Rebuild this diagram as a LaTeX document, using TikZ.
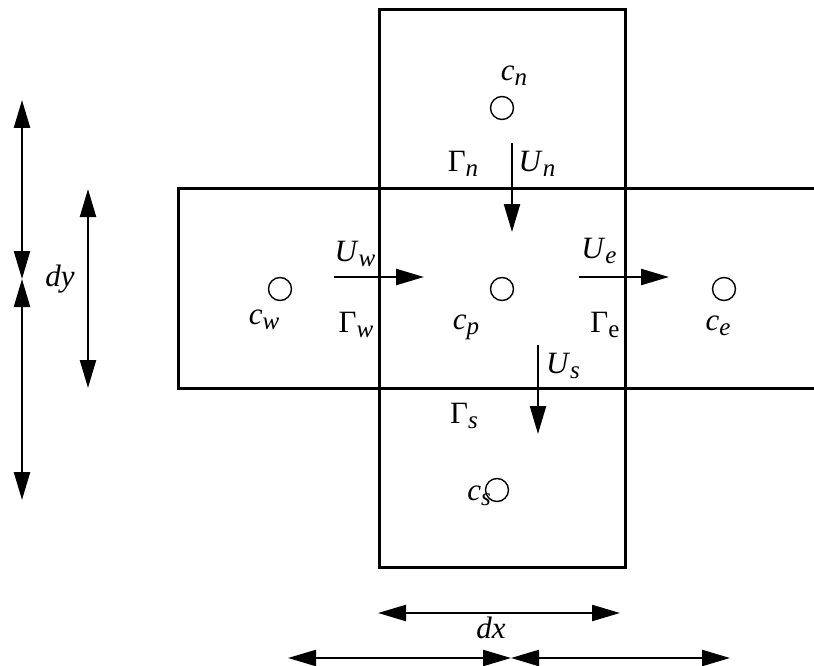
\documentclass[tikz,border=0pt]{standalone}
\usepackage{fontspec}
\setmainfont{Liberation Serif}
\usetikzlibrary{arrows.meta}
\newcommand\subx[1]{\raisebox{-5pt}{\fontsize{25}{25}\selectfont #1}}
\tikzset{
  wall/.style={line width=3pt},
  flux/.style={line width=2.3pt,-{Triangle[length=28pt,width=16pt]}},
  dim/.style={line width=2.3pt,{Triangle[length=28pt,width=16pt]}-{Triangle[length=28pt,width=16pt]}},
  cell/.style={circle,draw,line width=1.4pt,minimum size=23pt,inner sep=0pt},
  lab/.style={font=\fontsize{31}{31}\selectfont,inner sep=0pt}
}
\begin{document}
\begin{tikzpicture}[x=1pt,y=-1pt]
\useasboundingbox (0,0) rectangle (814,666);
% walls
\draw[wall] (379,10) rectangle (625,567);
\draw[wall] (814,188) -- (178,188) -- (178,388) -- (814,388);
% cell centres
\node[cell] (cn) at (502,108) {};
\node[cell] (cw) at (280,289) {};
\node[cell] (cp) at (502,289) {};
\node[cell] (ce) at (724,289) {};
\node[cell] (cs) at (497,490) {};
% labels
\node[lab] (lcn) at (514,76) {\textit{c}\subx{\textit{n}}};
\node[lab] (lgn) at (463,164) {Γ\subx{\textit{n}}};
\node[lab] (lun) at (537,164) {\textit{U}\subx{\textit{n}}};
\node[lab] (luw) at (355,254) {\textit{U}\subx{\textit{w}}};
\node[lab] (lgw) at (356,325) {Γ\subx{\textit{w}}};
\node[lab] (lcw) at (264,320) {\textit{c}\subx{\textit{w}}};
\node[lab] (lcp) at (466,327) {\textit{c}\subx{\textit{p}}};
\node[lab] (lue) at (599,251) {\textit{U}\subx{\textit{e}}};
\node[lab] (lge) at (605,325) {Γ\subx{e}};
\node[lab] (lce) at (718,326) {\textit{c}\subx{\textit{e}}};
\node[lab] (lus) at (563,366) {\textit{U}\subx{\textit{s}}};
\node[lab] (lgs) at (464,416) {Γ\subx{\textit{s}}};
\node[lab] (lcs) at (479,496) {\textit{c}\subx{\textit{s}}};
\node[lab] (ldy) at (60,279) {\textit{dy}};
\node[lab] (ldx) at (491,628) {\textit{dx}};
% flux arrows
\coordinate (un1) at (512,143); \coordinate (un2) at (512,232);
\coordinate (uw1) at (334,277); \coordinate (uw2) at (424,277);
\coordinate (ue1) at (579,277); \coordinate (ue2) at (669,277);
\coordinate (us1) at (538,345); \coordinate (us2) at (538,434);
\draw[flux] (un1) -- (un2);
\draw[flux] (uw1) -- (uw2);
\draw[flux] (ue1) -- (ue2);
\draw[flux] (us1) -- (us2);
% dimension arrows
\coordinate (a1) at (22,100); \coordinate (a2) at (22,279); \coordinate (a3) at (22,500);
\coordinate (b1) at (88,189); \coordinate (b2) at (88,388);
\coordinate (d1) at (378,613); \coordinate (d2) at (620,613);
\coordinate (e1) at (288,658); \coordinate (e2) at (511,658); \coordinate (e3) at (730,658);
\draw[dim] (a1) -- (a2);
\draw[dim] (a2) -- (a3);
\draw[dim] (b1) -- (b2);
\draw[dim] (d1) -- (d2);
\draw[dim] (e1) -- (e2);
\draw[dim] (e2) -- (e3);
\end{tikzpicture}
\end{document}
